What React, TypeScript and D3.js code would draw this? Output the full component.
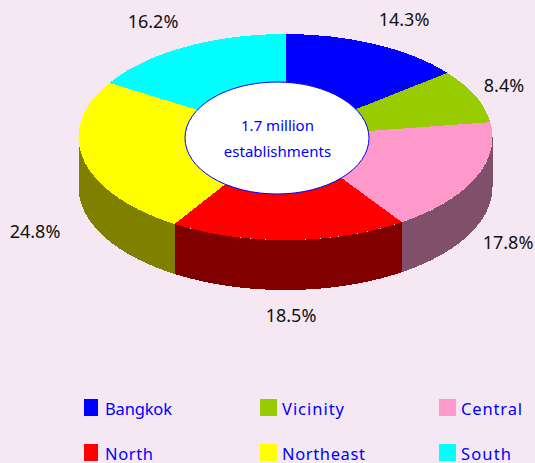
import React from 'react';
import * as d3 from 'd3';

// Values
const regions = ['Bangkok', 'Vicinity', 'Central', 'North', 'Northeast', 'South'];
const shares = [14.3, 8.4, 17.8, 18.5, 24.8, 16.2];
const topColors = ['#0000ff', '#99cc00', '#ff99cc', '#ff0000', '#ffff00', '#00ffff'];
const sideColors = ['#000080', '#4d6600', '#804f69', '#800000', '#808000', '#008080'];
const centerLines = ['1.7 million', 'establishments'];

const width = 535;
const height = 463;
const cx = 285.5;
const cy = 137;
const rx = 207;
const ry = 103;
const depth = 50;

const labelPos = [
  { x: 404, y: 26 },
  { x: 504, y: 92 },
  { x: 508, y: 249 },
  { x: 291, y: 322 },
  { x: 35, y: 238 },
  { x: 153, y: 28 },
];

const legendCols = [84, 260, 439];
const legendRows = [399, 444];
const legendTextWidths = [67, 62, 61, 48, 83, 50];
const textFont = '"Noto Sans", sans-serif';

const App = () => {
  const pie = d3.pie<number>().sort(null).value((d) => d);
  const slices = pie(shares);
  const arc = d3.arc<d3.PieArcDatum<number>>().innerRadius(0).outerRadius(rx);

  // front wall of the disc, only the part facing the viewer (90deg to 270deg)
  const wall = d3
    .area<number>()
    .x((a) => Math.sin(a) * rx)
    .y0((a) => -Math.cos(a) * ry)
    .y1((a) => -Math.cos(a) * ry + depth);

  const wallPath = (s: d3.PieArcDatum<number>) => {
    const a0 = Math.max(s.startAngle, Math.PI / 2);
    const a1 = Math.min(s.endAngle, (Math.PI * 3) / 2);
    if (a1 <= a0) return null;
    const step = (a1 - a0) / 60;
    return wall(d3.range(61).map((i) => a0 + i * step));
  };

  return (
    <svg
      width={width}
      height={height}
      style={{ position: 'absolute', left: 0, top: 0, display: 'block' }}
    >
      <rect width={width} height={height} fill="#f5e8f3" />

      <g transform={`translate(${cx},${cy})`} shapeRendering="crispEdges">
        {slices.map((s, i) => {
          const d = wallPath(s);
          return d ? <path key={i} d={d} fill={sideColors[i]} /> : null;
        })}
      </g>
      <g transform={`translate(${cx},${cy}) scale(1,${ry / rx})`} shapeRendering="crispEdges">
        {slices.map((s, i) => (
          <path key={i} d={arc(s) as string} fill={topColors[i]} />
        ))}
      </g>

      <ellipse cx={277} cy={138} rx={92} ry={56} fill="#ffffff" stroke="#0000ff" strokeWidth={1} />
      {centerLines.map((t, i) => (
        <text
          key={t}
          x={277.5}
          y={131 + i * 26}
          textAnchor="middle"
          fontFamily={textFont}
          fontSize={15}
          fill="#0000ff"
        >
          {t}
        </text>
      ))}

      {shares.map((v, i) => (
        <text
          key={regions[i]}
          x={labelPos[i].x}
          y={labelPos[i].y}
          textAnchor="middle"
          fontFamily={textFont}
          fontSize={18}
          fill="#111111"
        >
          {v.toFixed(1)}%
        </text>
      ))}

      {regions.map((r, i) => {
        const x = legendCols[i % 3];
        const y = legendRows[Math.floor(i / 3)];
        return (
          <g key={r}>
            <rect x={x} y={y} width={i % 3 === 0 ? 14 : 17} height={17} fill={topColors[i]} />
            <text
              x={x + (i % 3 === 0 ? 21 : 22)}
              y={y + 16}
              fontFamily={textFont}
              fontSize={16.5}
              textLength={legendTextWidths[i]}
              lengthAdjust="spacing"
              fill="#0000ff"
            >
              {r}
            </text>
          </g>
        );
      })}
    </svg>
  );
};

export default App;
